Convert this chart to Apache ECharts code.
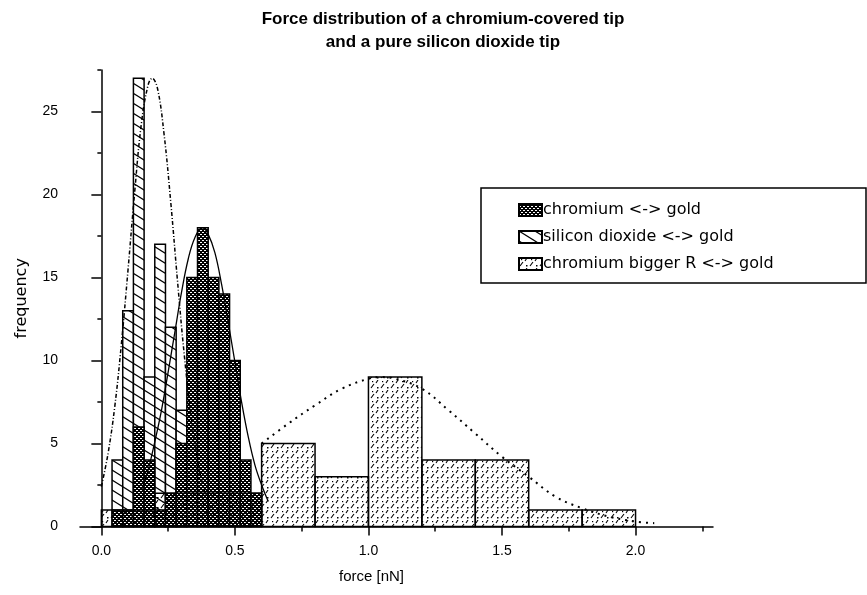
<!DOCTYPE html>
<html>
<head>
<meta charset="utf-8">
<script src="https://cdn.jsdelivr.net/npm/echarts@6/dist/echarts.min.js"></script>
<style>
  html, body { margin: 0; padding: 0; background: #fff; }
  #chart { width: 867px; height: 595px; }
</style>
</head>
<body>
<div id="chart"></div>
<script>
// histogram bins (left edge), width and counts
const binWidthSmall = 0.04
const binWidthLarge = 0.2

const chromiumBins = [0.04, 0.08, 0.12, 0.16, 0.20, 0.24, 0.28, 0.32, 0.36, 0.40, 0.44, 0.48, 0.52, 0.56]
const chromiumCounts = [1, 1, 6, 4, 1, 2, 5, 15, 18, 15, 14, 10, 4, 2]

const siliconBins = [0.04, 0.08, 0.12, 0.16, 0.20, 0.24, 0.28]
const siliconCounts = [4, 13, 27, 9, 17, 12, 7]

const biggerRBins = [0.0, 0.2, 0.4, 0.6, 0.8, 1.0, 1.2, 1.4, 1.6, 1.8]
const biggerRCounts = [1, 2, 2, 5, 3, 9, 4, 4, 1, 1]

// fitted curves
const chromiumFit = [
  [0.15, 2.2], [0.175, 3.4], [0.2, 5.1], [0.225, 7.0], [0.25, 9.3], [0.275, 11.7],
  [0.3, 14.1], [0.325, 16.1], [0.35, 17.4], [0.378, 18], [0.4, 17.6], [0.425, 16.5],
  [0.45, 14.6], [0.475, 12.3], [0.5, 9.9], [0.525, 7.5], [0.55, 5.4], [0.575, 3.7],
  [0.6, 2.5], [0.625, 1.5]
]
const siliconFit = [
  [0.0, 2.4], [0.025, 4.4], [0.05, 7.2], [0.075, 11], [0.1, 15.5], [0.125, 20.2],
  [0.15, 24.3], [0.175, 26.6], [0.19, 27], [0.21, 26.4], [0.235, 23.6], [0.26, 19.5],
  [0.285, 14.8], [0.31, 10.4], [0.335, 6.8], [0.36, 4.0], [0.385, 2.2], [0.41, 1.1]
]
const biggerRFit = [
  [0.6, 5.0], [0.7, 6.2], [0.8, 7.3], [0.9, 8.3], [1.0, 8.9], [1.05, 9.0], [1.1, 8.9],
  [1.2, 8.3], [1.3, 7.0], [1.4, 5.6], [1.5, 4.2], [1.6, 3.0], [1.7, 1.8], [1.8, 1.1],
  [1.9, 0.6], [2.0, 0.3], [2.07, 0.2]
]

// axis ticks / labels
const xMajorTicks = [0, 0.5, 1.0, 1.5, 2.0]
const xMinorTicks = [0.25, 0.75, 1.25, 1.75, 2.25]
const yMajorTicks = [0, 5, 10, 15, 20, 25]
const yMinorTicks = [2.5, 7.5, 12.5, 17.5, 22.5, 27.5]

const seriesNames = ['chromium <-> gold', 'silicon dioxide <-> gold', 'chromium bigger R <-> gold']

/* fill patterns */
function makeTile(w, h, draw) {
  let c = document.createElement('canvas')
  c.width = w
  c.height = h
  draw(c.getContext('2d'), w, h)
  return { image: c, repeat: 'repeat' }
}
// dense cross hatch
const crossPattern = makeTile(4, 4, (g, w, h) => {
  g.fillStyle = '#fff'
  g.fillRect(0, 0, w, h)
  g.fillStyle = '#000'
  for (let x = 0; x < w; x++) {
    for (let y = 0; y < h; y++) {
      let a = (x + y) % 4
      let b = ((x - y) % 4 + 4) % 4
      if (a <= 1 || b <= 1) g.fillRect(x, y, 1, 1)
    }
  }
})
// "\" hatch
const backPattern = makeTile(16, 10, (g, w, h) => {
  g.fillStyle = '#fff'
  g.fillRect(0, 0, w, h)
  g.strokeStyle = '#000'
  g.lineWidth = 1.2
  for (let k = -2; k <= 2; k++) {
    g.beginPath()
    g.moveTo(-w, -h + k * h)
    g.lineTo(2 * w, 2 * h + k * h)
    g.stroke()
  }
})
// dotted "/" strokes
const slashPattern = makeTile(10, 10, (g, w, h) => {
  g.strokeStyle = '#000'
  g.fillStyle = '#000'
  g.lineWidth = 1.1
  g.beginPath()
  g.moveTo(1, 8); g.lineTo(4, 4)
  g.moveTo(6, 3); g.lineTo(8, 0)
  g.stroke()
  g.fillRect(7, 7, 1.5, 1.5)
  g.fillRect(2, 1, 1.2, 1.2)
})

function histData(bins, counts, width) {
  return bins.map((b, i) => [b, b + width, counts[i]])
}

function histSeries(name, data, pattern, z) {
  return {
    name: name,
    type: 'custom',
    z: z,
    itemStyle: { color: pattern, borderColor: '#000', borderWidth: 1 },
    encode: { x: [0, 1], y: 2 },
    data: data,
    renderItem: (params, api) => {
      let p0 = api.coord([api.value(0), api.value(2)])
      let p1 = api.coord([api.value(1), 0])
      return {
        type: 'rect',
        shape: { x: p0[0], y: p0[1], width: p1[0] - p0[0], height: p1[1] - p0[1] },
        style: { fill: pattern, stroke: '#000', lineWidth: 1.5 },
      }
    },
  }
}

function fitSeries(data, lineStyle) {
  return {
    type: 'line',
    z: 6,
    data: data,
    smooth: 0.4,
    showSymbol: false,
    silent: true,
    lineStyle: Object.assign({ color: '#000' }, lineStyle),
  }
}

const axisFont = 'Liberation Sans, Arial, sans-serif'
const wideFont = 'DejaVu Sans, sans-serif'

/* x axis range is shared by the labelled axis and the minor-tick overlay */
const xRange = { type: 'value', min: -0.08, max: 2.29 }
const yRange = { type: 'value', min: 0, max: 27.5 }

let myChart = echarts.init(document.getElementById('chart'))
let option = {
  animation: false,
  backgroundColor: '#fff',
  title: {
    text: 'Force distribution of a chromium-covered tip\nand a pure silicon dioxide tip',
    left: 438,
    top: 3,
    textAlign: 'center',
    textStyle: { fontFamily: axisFont, fontSize: 17, fontWeight: 'bold', color: '#000', lineHeight: 23 },
  },
  grid: { left: 80, top: 70, width: 633, height: 456.5 },
  legend: {
    orient: 'vertical',
    left: 513,
    top: 197,
    icon: 'rect',
    itemWidth: 23,
    itemHeight: 12,
    itemGap: 11,
    data: seriesNames,
    textStyle: { fontFamily: wideFont, fontSize: 16, color: '#000', padding: [0, 0, 0, -4] },
  },
  graphic: [
    {
      type: 'rect',
      shape: { x: 481, y: 188, width: 385, height: 95 },
      style: { fill: 'none', stroke: '#000', lineWidth: 1.5 },
      z: 10,
    },
  ],
  xAxis: [
    Object.assign({}, xRange, {
      name: 'force [nN]',
      nameLocation: 'middle',
      nameGap: 43,
      nameTextStyle: { fontFamily: axisFont, fontSize: 15, color: '#000', padding: [0, 50, 0, 0] },
      splitLine: { show: false },
      axisLine: { onZero: false, lineStyle: { color: '#000', width: 1.5 } },
      axisTick: { customValues: xMajorTicks, length: 9, lineStyle: { color: '#000', width: 1.5 } },
      axisLabel: {
        customValues: xMajorTicks,
        formatter: (v) => v.toFixed(1),
        fontFamily: axisFont,
        fontSize: 14,
        color: '#000',
        margin: 18,
      },
    }),
    Object.assign({}, xRange, {
      position: 'bottom',
      splitLine: { show: false },
      axisLine: { show: false, onZero: false },
      axisTick: { customValues: xMinorTicks, length: 5, lineStyle: { color: '#000', width: 1.5 } },
      axisLabel: { show: false },
    }),
  ],
  yAxis: [
    Object.assign({}, yRange, {
      name: 'frequency',
      nameLocation: 'middle',
      nameGap: 50,
      nameTextStyle: { fontFamily: wideFont, fontSize: 16, color: '#000' },
      splitLine: { show: false },
      axisLine: { lineStyle: { color: '#000', width: 1.5 } },
      axisTick: { customValues: yMajorTicks, length: 10, lineStyle: { color: '#000', width: 1.5 } },
      axisLabel: { customValues: yMajorTicks, fontFamily: axisFont, fontSize: 14, color: '#000', margin: 22 },
    }),
    Object.assign({}, yRange, {
      position: 'left',
      splitLine: { show: false },
      axisLine: { show: false },
      axisTick: { customValues: yMinorTicks, length: 4, lineStyle: { color: '#000', width: 1.5 } },
      axisLabel: { show: false },
    }),
  ],
  series: [
    histSeries(seriesNames[0], histData(chromiumBins, chromiumCounts, binWidthSmall), crossPattern, 4),
    histSeries(seriesNames[1], histData(siliconBins, siliconCounts, binWidthSmall), backPattern, 3),
    histSeries(seriesNames[2], histData(biggerRBins, biggerRCounts, binWidthLarge), slashPattern, 5),
    fitSeries(chromiumFit, { width: 1.3, type: 'solid' }),
    fitSeries(siliconFit, { width: 1.5, type: [4, 2, 1, 2] }),
    fitSeries(biggerRFit, { width: 2, type: [2, 5] }),
  ],
}
myChart.setOption(option)
</script>
</body>
</html>
